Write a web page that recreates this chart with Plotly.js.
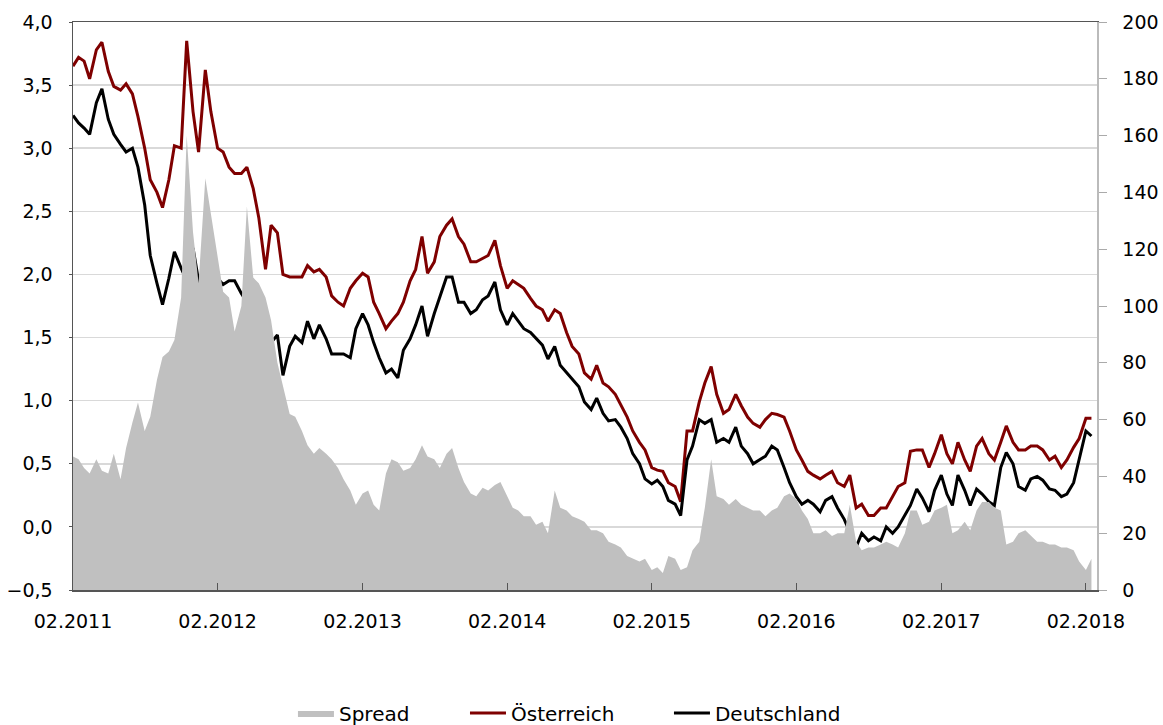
<!DOCTYPE html>
<html>
<head>
<meta charset="utf-8">
<script src="https://cdn.plot.ly/plotly-3.0.1.min.js"></script>
<style>
  html, body { margin: 0; padding: 0; background: #fff; }
  #chart { width: 1163px; height: 725px; }
</style>
</head>
<body>
<div id="chart"></div>
<script>
// Semi-monthly observation dates
const dates = [
"2011-02-01","2011-02-15","2011-03-01","2011-03-15","2011-04-01","2011-04-15","2011-05-01","2011-05-15","2011-06-01","2011-06-15","2011-07-01","2011-07-15","2011-08-01","2011-08-15","2011-09-01","2011-09-15","2011-10-01","2011-10-15","2011-11-01","2011-11-15","2011-12-01","2011-12-15","2012-01-01","2012-01-15",
"2012-02-01","2012-02-15","2012-03-01","2012-03-15","2012-04-01","2012-04-15","2012-05-01","2012-05-15","2012-06-01","2012-06-15","2012-07-01","2012-07-15","2012-08-01","2012-08-15","2012-09-01","2012-09-15","2012-10-01","2012-10-15","2012-11-01","2012-11-15","2012-12-01","2012-12-15","2013-01-01","2013-01-15",
"2013-02-01","2013-02-15","2013-03-01","2013-03-15","2013-04-01","2013-04-15","2013-05-01","2013-05-15","2013-06-01","2013-06-15","2013-07-01","2013-07-15","2013-08-01","2013-08-15","2013-09-01","2013-09-15","2013-10-01","2013-10-15","2013-11-01","2013-11-15","2013-12-01","2013-12-15","2014-01-01","2014-01-15",
"2014-02-01","2014-02-15","2014-03-01","2014-03-15","2014-04-01","2014-04-15","2014-05-01","2014-05-15","2014-06-01","2014-06-15","2014-07-01","2014-07-15","2014-08-01","2014-08-15","2014-09-01","2014-09-15","2014-10-01","2014-10-15","2014-11-01","2014-11-15","2014-12-01","2014-12-15","2015-01-01","2015-01-15",
"2015-02-01","2015-02-15","2015-03-01","2015-03-15","2015-04-01","2015-04-15","2015-05-01","2015-05-15","2015-06-01","2015-06-15","2015-07-01","2015-07-15","2015-08-01","2015-08-15","2015-09-01","2015-09-15","2015-10-01","2015-10-15","2015-11-01","2015-11-15","2015-12-01","2015-12-15","2016-01-01","2016-01-15",
"2016-02-01","2016-02-15","2016-03-01","2016-03-15","2016-04-01","2016-04-15","2016-05-01","2016-05-15","2016-06-01","2016-06-15","2016-07-01","2016-07-15","2016-08-01","2016-08-15","2016-09-01","2016-09-15","2016-10-01","2016-10-15","2016-11-01","2016-11-15","2016-12-01","2016-12-15","2017-01-01","2017-01-15",
"2017-02-01","2017-02-15","2017-03-01","2017-03-15","2017-04-01","2017-04-15","2017-05-01","2017-05-15","2017-06-01","2017-06-15","2017-07-01","2017-07-15","2017-08-01","2017-08-15","2017-09-01","2017-09-15","2017-10-01","2017-10-15","2017-11-01","2017-11-15","2017-12-01","2017-12-15","2018-01-01","2018-01-15",
"2018-02-01","2018-02-15"
];

// Yield Österreich (%, left axis)
const oesterreich = [
3.65,3.72,3.69,3.55,3.78,3.84,3.61,3.49,3.46,3.51,3.43,3.25,3.00,2.75,2.65,2.53,2.75,3.02,3.00,3.85,3.29,2.97,3.62,3.29,
3.00,2.97,2.85,2.80,2.80,2.85,2.68,2.45,2.04,2.39,2.33,2.00,1.98,1.98,1.98,2.07,2.02,2.04,1.98,1.83,1.78,1.75,1.89,1.95,
2.01,1.98,1.78,1.69,1.57,1.63,1.69,1.78,1.95,2.04,2.30,2.01,2.10,2.30,2.39,2.44,2.30,2.24,2.10,2.10,2.13,2.15,2.27,2.07,
1.89,1.95,1.92,1.89,1.81,1.75,1.72,1.63,1.72,1.69,1.54,1.43,1.37,1.22,1.17,1.28,1.14,1.11,1.05,0.96,0.87,0.76,0.67,0.61,
0.47,0.45,0.44,0.35,0.32,0.20,0.76,0.76,0.99,1.14,1.27,1.05,0.90,0.93,1.05,0.96,0.87,0.82,0.79,0.85,0.90,0.89,0.87,0.76,
0.61,0.53,0.44,0.41,0.38,0.41,0.44,0.35,0.32,0.41,0.15,0.18,0.09,0.09,0.15,0.15,0.24,0.32,0.35,0.60,0.61,0.61,0.47,0.58,
0.73,0.58,0.50,0.67,0.53,0.44,0.64,0.70,0.58,0.53,0.67,0.80,0.67,0.61,0.61,0.64,0.64,0.61,0.53,0.56,0.47,0.53,0.63,0.70,
0.86,0.86
];

// Yield Deutschland (%, left axis)
const deutschland = [
3.26,3.20,3.16,3.11,3.36,3.47,3.23,3.11,3.03,2.97,3.00,2.85,2.55,2.15,1.93,1.76,1.97,2.18,2.05,1.95,2.21,1.95,1.88,1.90,
1.97,1.92,1.95,1.95,1.85,1.78,1.65,1.50,1.20,1.46,1.52,1.20,1.43,1.51,1.46,1.63,1.49,1.60,1.49,1.37,1.37,1.37,1.34,1.57,
1.69,1.60,1.46,1.34,1.22,1.25,1.18,1.40,1.49,1.60,1.75,1.51,1.69,1.83,1.98,1.98,1.78,1.78,1.69,1.72,1.80,1.83,1.94,1.72,
1.60,1.69,1.63,1.57,1.54,1.49,1.44,1.33,1.43,1.28,1.22,1.17,1.11,0.99,0.93,1.02,0.90,0.84,0.85,0.79,0.70,0.58,0.50,0.38,
0.34,0.37,0.32,0.21,0.18,0.09,0.53,0.64,0.85,0.82,0.85,0.67,0.70,0.67,0.79,0.64,0.58,0.50,0.53,0.56,0.64,0.61,0.47,0.35,
0.24,0.18,0.21,0.18,0.12,0.21,0.24,0.15,0.06,-0.05,-0.16,-0.05,-0.11,-0.08,-0.11,0.00,-0.05,0.00,0.10,0.17,0.30,0.23,0.12,0.29,
0.41,0.26,0.17,0.41,0.29,0.17,0.30,0.26,0.20,0.17,0.47,0.59,0.50,0.32,0.29,0.38,0.40,0.37,0.30,0.29,0.24,0.26,0.35,0.53,
0.76,0.72
];

// Spread (basis points, right axis)
const spread = [
47,46,43,41,46,42,41,48,39,50,59,66,56,61,74,82,84,88,103,160,126,108,145,133,
117,105,103,91,100,135,110,108,103,95,80,72,62,61,56,51,48,50,48,46,43,39,35,30,
34,35,30,28,41,46,45,42,43,46,51,47,46,43,48,50,43,38,34,33,36,35,37,38,
33,29,28,26,26,23,24,20,35,29,28,26,25,24,21,21,20,17,16,15,12,11,10,11,
7,8,6,12,11,7,8,14,17,29,46,33,32,30,32,30,29,28,28,26,28,29,33,34,
32,28,25,20,20,21,19,20,20,30,17,14,15,15,16,17,16,15,20,28,28,23,24,28,
29,30,20,21,24,21,28,31,31,29,28,16,17,20,21,19,17,17,16,16,15,15,14,10,
7,11
];

const seriesNames = ["Spread", "Österreich", "Deutschland"];

const FONT = "DejaVu Sans, Verdana, sans-serif";

const traces = [
  {
    x: dates, y: spread, name: seriesNames[0], type: "scatter", mode: "lines",
    yaxis: "y2", fill: "tozeroy", fillcolor: "#c0c0c0",
    line: { width: 0, color: "#c0c0c0" }, legend: "legend"
  },
  {
    x: dates, y: oesterreich, name: seriesNames[1], type: "scatter", mode: "lines",
    line: { width: 3, color: "#7f0000" }, legend: "legend2"
  },
  {
    x: dates, y: deutschland, name: seriesNames[2], type: "scatter", mode: "lines",
    line: { width: 3, color: "#000000" }, legend: "legend3"
  }
];

const legendBase = {
  orientation: "h", xanchor: "left", yanchor: "middle", y: -0.2165,
  itemwidth: 36,
  font: { family: FONT, size: 20, color: "#000" }, bgcolor: "rgba(0,0,0,0)"
};

const layout = {
  width: 1163, height: 725,
  margin: { l: 73, r: 66, t: 22, b: 135, autoexpand: false },
  paper_bgcolor: "#fff", plot_bgcolor: "#fff",
  separators: ", ",
  font: { family: FONT, size: 19, color: "#000" },
  showlegend: true,
  legend: Object.assign({}, legendBase, { x: 0.2148 }),
  legend2: Object.assign({}, legendBase, { x: 0.3828 }),
  legend3: Object.assign({}, legendBase, { x: 0.582 }),
  xaxis: {
    type: "date", range: ["2011-02-01", "2018-03-01"],
    tick0: "2011-02-01", dtick: "M12", tickformat: "%m.%Y",
    ticks: "inside", ticklen: 7, tickwidth: 1, tickcolor: "#555",
    ticklabelstandoff: 14,
    showline: true, linecolor: "#555", linewidth: 1.5, mirror: true,
    showgrid: false, zeroline: false,
    tickfont: { family: FONT, size: 19, color: "#000" }
  },
  yaxis: {
    range: [-0.5, 4.0], tick0: 0, dtick: 0.5, tickformat: ".1f",
    ticks: "outside", ticklen: 3, tickcolor: "#555",
    ticklabelstandoff: 12,
    showline: true, linecolor: "#555", linewidth: 1.5,
    showgrid: true, gridcolor: "#d9d9d9", gridwidth: 1.5, zeroline: false,
    tickfont: { family: FONT, size: 19, color: "#000" }
  },
  yaxis2: {
    overlaying: "y", side: "right", range: [0, 200], tick0: 0, dtick: 20,
    ticks: "outside", ticklen: 8, tickcolor: "#aaa",
    ticklabelstandoff: 12,
    showline: true, linecolor: "#bbb", linewidth: 1.5,
    showgrid: false, zeroline: false,
    tickfont: { family: FONT, size: 19, color: "#000" }
  }
};

Plotly.newPlot("chart", traces, layout, { staticPlot: true, displayModeBar: false });
</script>
</body>
</html>
